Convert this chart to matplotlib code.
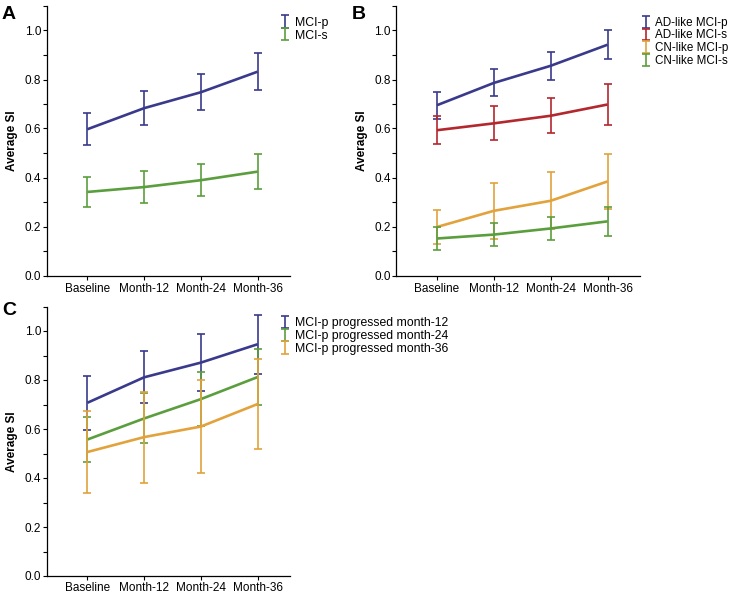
import numpy as np
import matplotlib
matplotlib.use('Agg')
import matplotlib.pyplot as plt
from matplotlib.ticker import MultipleLocator

plt.rcParams['font.family'] = ['Liberation Sans', 'DejaVu Sans']

# data
visits = ['Baseline', 'Month-12', 'Month-24', 'Month-36']

a_labels = ['MCI-p', 'MCI-s']
a_mean = [[0.597, 0.683, 0.748, 0.832],
          [0.341, 0.361, 0.389, 0.424]]
a_err = [[0.065, 0.070, 0.073, 0.075],
         [0.062, 0.065, 0.065, 0.072]]

b_labels = ['AD-like MCI-p', 'AD-like MCI-s', 'CN-like MCI-p', 'CN-like MCI-s']
b_mean = [[0.695, 0.786, 0.856, 0.942],
          [0.593, 0.621, 0.652, 0.698],
          [0.198, 0.264, 0.305, 0.384],
          [0.151, 0.167, 0.192, 0.221]]
b_err = [[0.055, 0.055, 0.058, 0.060],
         [0.056, 0.069, 0.071, 0.085],
         [0.068, 0.113, 0.117, 0.112],
         [0.048, 0.048, 0.048, 0.058]]

c_labels = ['MCI-p progressed month-12', 'MCI-p progressed month-24',
            'MCI-p progressed month-36']
c_mean = [[0.707, 0.811, 0.871, 0.946],
          [0.557, 0.643, 0.722, 0.812],
          [0.506, 0.567, 0.610, 0.702]]
c_err = [[0.111, 0.106, 0.115, 0.120],
         [0.093, 0.102, 0.110, 0.114],
         [0.169, 0.186, 0.190, 0.185]]

blue = '#3a3a8c'
red = '#b3282e'
orange = '#e2a23c'
green = '#5b9e3e'

a_colors = [blue, green]
b_colors = [blue, red, orange, green]
c_colors = [blue, green, orange]

W, H = 731, 595
fig = plt.figure(figsize=(W / 100, H / 100), dpi=100)


def px_axes(left, top, right, bottom):
    return fig.add_axes([left / W, 1 - bottom / H, (right - left) / W, (bottom - top) / H])


def panel(ax, labels, means, errs, colors, leg_x, xpad=2.5, leg_fs=8.8):
    x = np.arange(len(visits))
    for lab, m, e, c in zip(labels, means, errs, colors):
        ax.plot(x, m, color=c, lw=1.9, solid_capstyle='butt', zorder=3)
        ax.errorbar(x, m, yerr=e, fmt='none', ecolor=c, elinewidth=1.2,
                    capsize=2.7, capthick=1.2, label=lab, zorder=3)
    ax.set_xlim(-0.72, 3.57)
    ax.set_ylim(0, 1.1)
    ax.set_xticks(x)
    ax.set_xticklabels(visits)
    ax.yaxis.set_major_locator(MultipleLocator(0.2))
    ax.yaxis.set_minor_locator(MultipleLocator(0.1))
    ax.yaxis.set_major_formatter(matplotlib.ticker.FormatStrFormatter('%.1f'))
    for s in ['top', 'right']:
        ax.spines[s].set_visible(False)
    for s in ['left', 'bottom']:
        ax.spines[s].set_linewidth(0.9)
    ax.tick_params(axis='both', which='both', direction='out', length=3,
                   width=0.8, labelsize=8.5)
    ax.tick_params(axis='y', pad=0.8)
    ax.tick_params(axis='x', pad=xpad)
    ax.set_ylabel('Average SI', fontsize=8.5, fontweight='bold', labelpad=4.5)
    ax.legend(loc='upper left', bbox_to_anchor=(leg_x, 0.96), frameon=False,
              fontsize=leg_fs, borderpad=0, borderaxespad=0, handlelength=0.8,
              handletextpad=0.35, labelspacing=0.06)


axA = px_axes(46.5, 6, 290, 275.5)
panel(axA, a_labels, a_mean, a_err, a_colors, 0.961)
axB = px_axes(396, 6, 640, 275.5)
panel(axB, b_labels, b_mean, b_err, b_colors, 1.005, leg_fs=8.4)
axC = px_axes(46.5, 306.5, 290, 576)
panel(axC, c_labels, c_mean, c_err, c_colors, 0.961, xpad=1.2)

for lab, xp, yp in [('A', 2, 6), ('B', 352, 6), ('C', 2, 302)]:
    fig.text(xp / W, 1 - yp / H, lab, fontsize=14, fontweight='bold',
             ha='left', va='top')

fig.savefig('out.png', dpi=100)
